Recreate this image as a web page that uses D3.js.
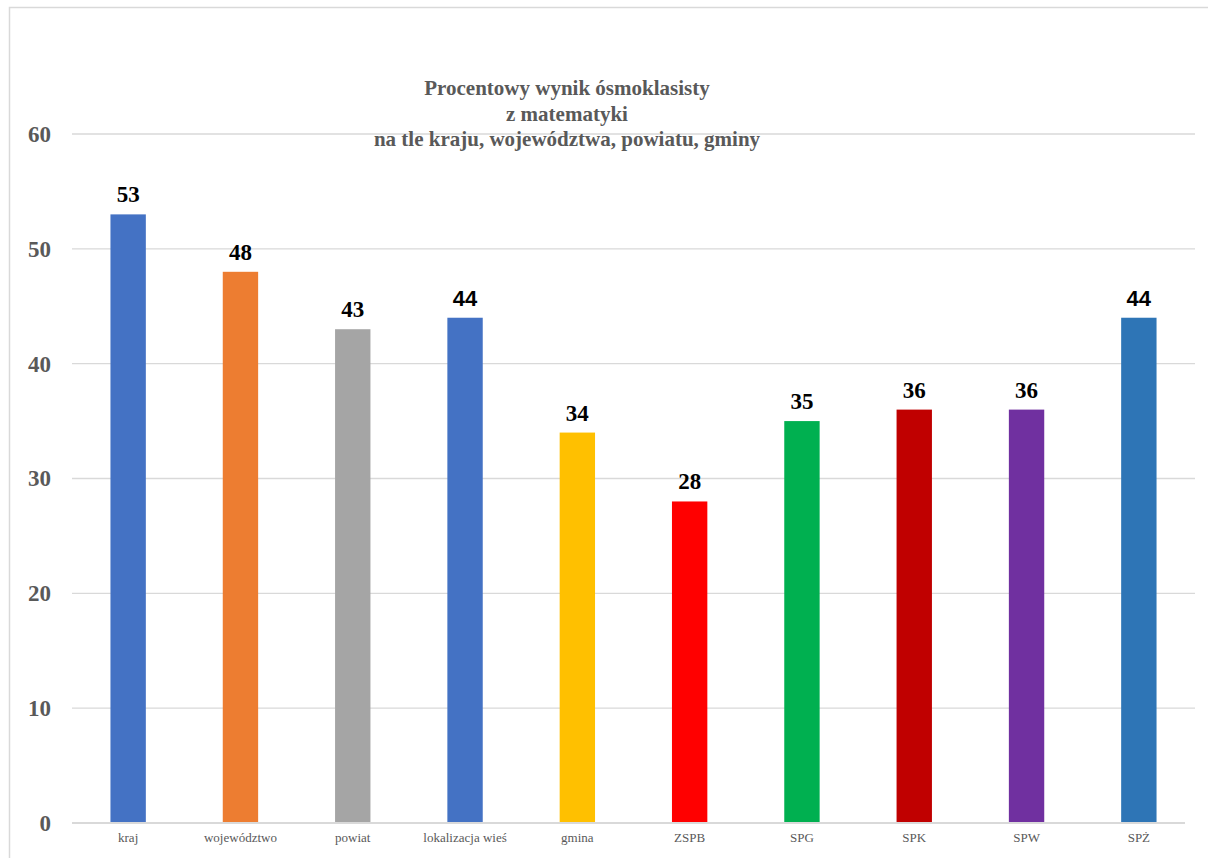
<!DOCTYPE html>
<html><head><meta charset="utf-8">
<script src="https://cdn.jsdelivr.net/npm/d3@7"></script>
<style>body{margin:0;background:#fff}svg{display:block}</style>
</head><body>
<script>
const categories = ["kraj","województwo","powiat","lokalizacja wieś","gmina","ZSPB","SPG","SPK","SPW","SPŻ"];
const values = [53,48,43,44,34,28,35,36,36,44];
const colors = ["#4472C4","#ED7D31","#A5A5A5","#4472C4","#FFC000","#FF0000","#00B050","#C00000","#7030A0","#2E75B6"];
const yTicks = [0,10,20,30,40,50,60];
const titleLines = ["Procentowy wynik ósmoklasisty","z matematyki","na tle kraju, województwa, powiatu, gminy"];
const sansLabelCats = ["lokalizacja wieś","SPŻ"];

const W=1208,H=858;
const svg=d3.select("body").append("svg").attr("width",W).attr("height",H);
const font="'Liberation Serif','Times New Roman',serif";
const sans="'Liberation Sans',Arial,sans-serif";
svg.append("rect").attr("x",9.5).attr("y",7.5).attr("width",W).attr("height",H)
  .attr("fill","#fff").attr("stroke","#d9d9d9").attr("stroke-width",1.5);

const x=d3.scaleBand().domain(categories).range([72,1195]).paddingInner(0.685).paddingOuter(0.3425);
const y=d3.scaleLinear().domain([0,60]).range([823,134]);

// gridlines
svg.append("g").selectAll("line").data(yTicks.filter(t=>t>0)).join("line")
  .attr("x1",72).attr("x2",1195).attr("y1",d=>y(d)).attr("y2",d=>y(d))
  .attr("stroke","#d9d9d9").attr("stroke-width",1.3);

// y axis labels
const ya=svg.append("g").attr("transform","translate(51,0)")
  .call(d3.axisLeft(y).tickValues(yTicks).tickSize(0).tickPadding(0).tickFormat(d3.format("d")));
ya.select(".domain").remove();
ya.selectAll("text").attr("font-family",font).attr("font-size",23).attr("font-weight","bold").attr("fill","#595959");

// bars
svg.append("g").selectAll("rect").data(values).join("rect")
  .attr("x",(d,i)=>x(categories[i])).attr("width",x.bandwidth())
  .attr("y",d=>y(d)).attr("height",d=>y(0)-y(d)).attr("fill",(d,i)=>colors[i]);

// baseline
svg.append("line").attr("x1",72).attr("x2",1185).attr("y1",y(0)).attr("y2",y(0))
  .attr("stroke","#d9d9d9").attr("stroke-width",2);

// x axis labels
const xa=svg.append("g").attr("transform",`translate(0,${y(0)})`)
  .call(d3.axisBottom(x).tickSize(0).tickPadding(10));
xa.select(".domain").remove();
xa.selectAll("text").attr("font-family",font).attr("font-size",13).attr("fill","#595959");

// value labels
svg.append("g").selectAll("text").data(values).join("text")
  .attr("x",(d,i)=>x(categories[i])+x.bandwidth()/2).attr("y",d=>y(d)-12)
  .attr("text-anchor","middle")
  .attr("font-family",(d,i)=>sansLabelCats.includes(categories[i])?sans:font)
  .attr("font-size",(d,i)=>sansLabelCats.includes(categories[i])?22:23)
  .attr("font-weight","bold").attr("fill","#000").text(d=>d);

// title
svg.append("g").selectAll("text").data(titleLines).join("text")
  .attr("x",567).attr("y",(d,i)=>95+i*25.5).attr("text-anchor","middle")
  .attr("font-family",font).attr("font-size",21).attr("font-weight","bold").attr("fill","#595959").text(d=>d);
</script>
</body></html>
